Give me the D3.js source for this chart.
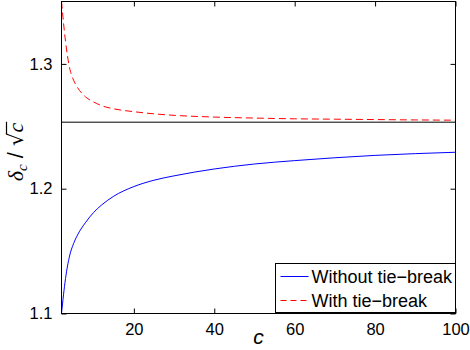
<!DOCTYPE html>
<html>
<head>
<meta charset="utf-8">
<script src="https://cdn.jsdelivr.net/npm/d3@7"></script>
<style>
  body { margin: 0; background: #fff; }
  svg text { font-family: "Liberation Sans", Arial, sans-serif; }
</style>
</head>
<body>
<svg width="470" height="350"></svg>
<script>
// values
let cValues = [2, 3, 4, 5, 6, 8, 10, 12, 15, 20, 25, 30, 40, 50, 60, 70, 80, 90, 100];
let withoutTie = [1.100, 1.128, 1.146, 1.156, 1.163, 1.173, 1.181, 1.187, 1.194, 1.2017,
    1.2068, 1.2103, 1.2158, 1.2198, 1.2225, 1.2248, 1.2267, 1.2281, 1.2292];
let withTie = [1.350, 1.318, 1.297, 1.287, 1.281, 1.2735, 1.2695, 1.2665, 1.264, 1.2617,
    1.2600, 1.2588, 1.2574, 1.2566, 1.2560, 1.2557, 1.2554, 1.2551, 1.2549];
let limitValue = 1.2533;
let xTicks = [20, 40, 60, 80, 100];
let yTicks = [1.1, 1.2, 1.3];
let legendLabels = ['Without tie\u2212break', 'With tie\u2212break'];

let svg = d3.select('svg');
let box = { l: 61.5, r: 455.5, t: 1.5, b: 313.5 };

let xScale = d3.scaleLinear().domain([2, 100]).range([box.l, box.r]);
let yScale = d3.scaleLinear().domain([1.1, 1.35]).range([box.b, box.t]);

// clip lines to the axes
svg.append('clipPath').attr('id', 'clip')
    .append('rect')
    .attr('x', box.l).attr('y', box.t)
    .attr('width', box.r - box.l).attr('height', box.b - box.t);

let plotG = svg.append('g').attr('clip-path', 'url(#clip)');

let line = d3.line()
    .x(d => xScale(d[0]))
    .y(d => yScale(d[1]))
    .curve(d3.curveMonotoneX);

plotG.append('line')
    .attr('x1', box.l).attr('x2', box.r)
    .attr('y1', yScale(limitValue)).attr('y2', yScale(limitValue))
    .attr('stroke', '#000').attr('stroke-width', 1);

plotG.append('path')
    .datum(cValues.map((c, i) => [c, withoutTie[i]]))
    .attr('d', line)
    .attr('fill', 'none')
    .attr('stroke', '#0000ff')
    .attr('stroke-width', 1);

plotG.append('path')
    .datum(cValues.map((c, i) => [c, withTie[i]]))
    .attr('d', line)
    .attr('fill', 'none')
    .attr('stroke', '#ff0000')
    .attr('stroke-width', 1)
    .attr('stroke-dasharray', '7,4');

// axes, ticks inward on all four sides
let tickLen = 5;
svg.append('g')
    .attr('transform', 'translate(0,' + box.b + ')')
    .call(d3.axisBottom(xScale).tickValues(xTicks).tickSize(-tickLen).tickPadding(10).tickFormat(d3.format('d')));
svg.append('g')
    .attr('transform', 'translate(0,' + box.t + ')')
    .call(d3.axisTop(xScale).tickValues(xTicks).tickSize(-tickLen).tickFormat(''));
svg.append('g')
    .attr('transform', 'translate(' + box.l + ',0)')
    .call(d3.axisLeft(yScale).tickValues(yTicks).tickSize(-tickLen).tickPadding(9).tickFormat(d3.format('.1f')));
svg.append('g')
    .attr('transform', 'translate(' + box.r + ',0)')
    .call(d3.axisRight(yScale).tickValues(yTicks).tickSize(-tickLen).tickFormat(''));

svg.selectAll('.domain').remove();
svg.selectAll('.tick line').attr('stroke', '#000');
svg.selectAll('.tick text').attr('fill', '#000').attr('font-size', '16.5px')
    .attr('font-family', '"Liberation Sans", Arial, sans-serif');

svg.append('rect')
    .attr('x', box.l).attr('y', box.t)
    .attr('width', box.r - box.l).attr('height', box.b - box.t)
    .attr('fill', 'none').attr('stroke', '#000').attr('stroke-width', 1);

// axis labels
svg.append('text')
    .attr('x', (box.l + box.r) / 2)
    .attr('y', 344)
    .attr('text-anchor', 'middle')
    .attr('font-family', '"Liberation Serif", serif')
    .attr('font-style', 'italic')
    .attr('font-size', '21px')
    .text('c');

let yLabG = svg.append('g').attr('transform', 'translate(23,152) rotate(-90)');
let yLab = yLabG.append('text')
    .attr('text-anchor', 'middle')
    .attr('font-size', '22px');
yLab.append('tspan').attr('font-family', '"Liberation Serif", serif').attr('font-style', 'italic').text('\u03b4');
yLab.append('tspan').attr('font-family', '"Liberation Serif", serif').attr('font-style', 'italic')
    .attr('font-size', '15px').attr('dy', 4).text('c');
yLab.append('tspan').attr('dy', -4).text(' / ');
yLab.append('tspan').attr('font-family', '"DejaVu Sans", sans-serif').attr('font-size', '21px').text('\u221a');
yLab.append('tspan').attr('font-family', '"Liberation Serif", serif').attr('font-style', 'italic').text('c');

// overline of the square root
let tNode = yLab.node();
let n = tNode.getNumberOfChars();
let rootBox = tNode.getExtentOfChar(n - 2);
let cBox = tNode.getExtentOfChar(n - 1);
let barY = rootBox.y + 2.5;
yLabG.append('line')
    .attr('x1', rootBox.x + rootBox.width - 1.5)
    .attr('x2', cBox.x + cBox.width + 1)
    .attr('y1', barY).attr('y2', barY)
    .attr('stroke', '#000').attr('stroke-width', 1.2);

// legend
let legend = { x: 275.5, y: 263.5, w: 180, h: 49 };
let legG = svg.append('g');
legG.append('rect')
    .attr('x', legend.x).attr('y', legend.y)
    .attr('width', legend.w).attr('height', legend.h)
    .attr('fill', '#fff').attr('stroke', '#000').attr('stroke-width', 1);

let legStyles = [{ color: '#0000ff', dash: null }, { color: '#ff0000', dash: '6,4' }];
legendLabels.forEach((lab, i) => {
    let yy = legend.y + 13 + i * 24;
    legG.append('line')
        .attr('x1', legend.x + 5).attr('x2', legend.x + 33)
        .attr('y1', yy).attr('y2', yy)
        .attr('stroke', legStyles[i].color).attr('stroke-width', 1)
        .attr('stroke-dasharray', legStyles[i].dash);
    legG.append('text')
        .attr('x', legend.x + 36)
        .attr('y', yy + 6.5)
        .attr('font-size', '18px')
        .attr('fill', '#000')
        .text(lab);
});
</script>
</body>
</html>
